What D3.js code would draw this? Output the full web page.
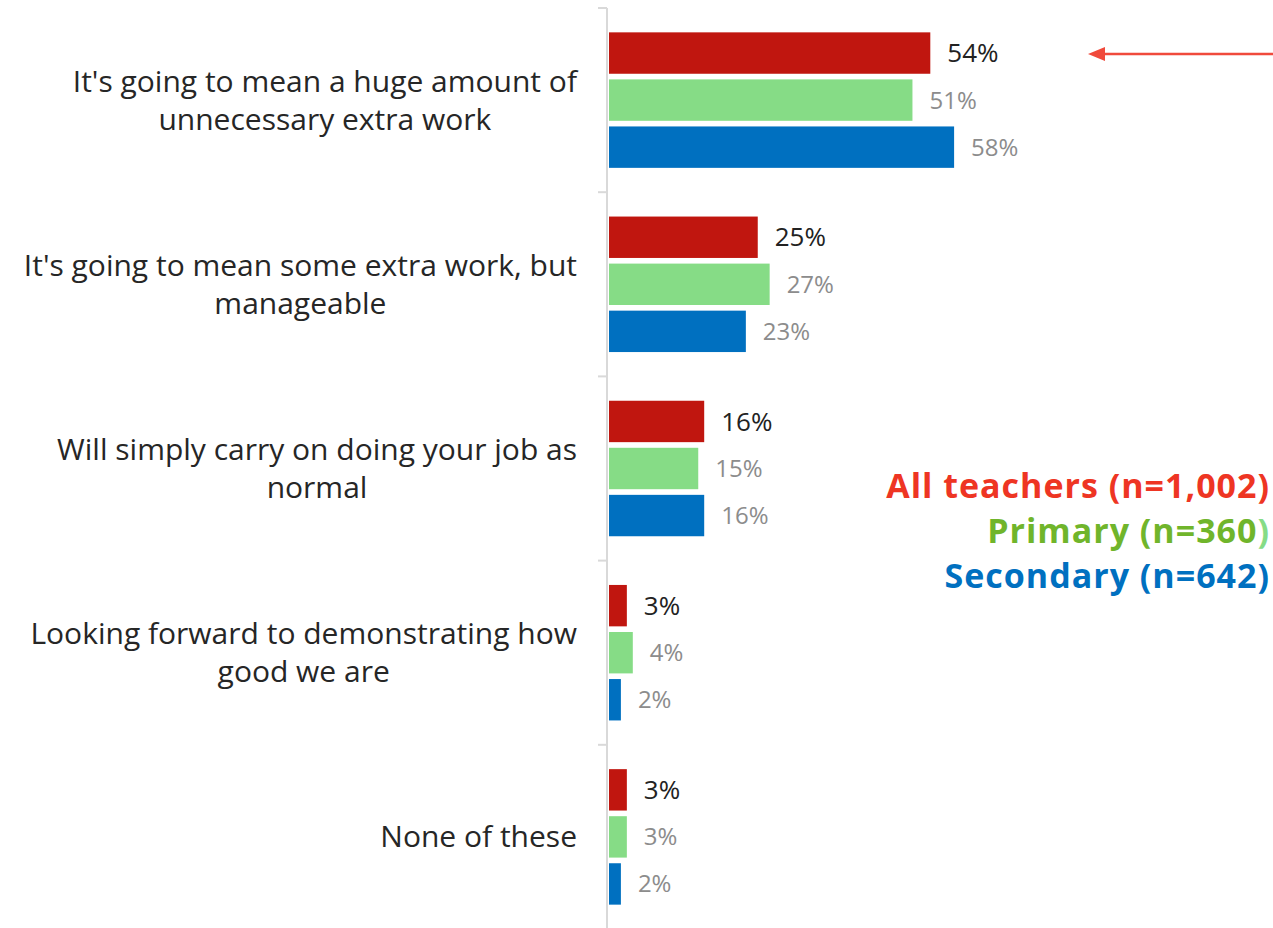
<!DOCTYPE html>
<html>
<head>
<meta charset="utf-8">
<script src="https://cdn.jsdelivr.net/npm/d3@7/dist/d3.min.js"></script>
<style>
  html, body { margin: 0; padding: 0; background: #fff; }
  svg { display: block; }
  text { font-family: "Open Sans", "DejaVu Sans", sans-serif; }
</style>
</head>
<body>
<svg id="chart" width="1273" height="928"></svg>
<script>
// Survey responses, percent of teachers in each group
const categories = [
  ["It's going to mean a huge amount of", "unnecessary extra work"],
  ["It's going to mean some extra work, but", "manageable"],
  ["Will simply carry on doing your job as", "normal"],
  ["Looking forward to demonstrating how", "good we are"],
  ["None of these"]
];
const seriesNames = ["All teachers", "Primary", "Secondary"];
const seriesN = ["1,002", "360", "642"];
const allTeachers = [54, 25, 16, 3, 3];
const primary = [51, 27, 15, 4, 3];
const secondary = [58, 23, 16, 2, 2];
const seriesValues = [allTeachers, primary, secondary];

const barColors = ["#c0160f", "#86dc86", "#0070c0"];
const legendColors = ["#ee3523", "#70b52b", "#0070c0"];

const svg = d3.select("#chart");

const catKeys = categories.map((c, i) => i);
const y = d3.scaleBand().domain(catKeys).range([8, 929]).padding(0);
const groupLen = 135.5;
const ySub = d3.scaleBand().domain(d3.range(seriesNames.length))
  .range([(y.bandwidth() - groupLen) / 2, (y.bandwidth() + groupLen) / 2])
  .paddingInner(0.12);
const x = d3.scaleLinear().domain([0, 100]).range([609, 609 + 595]);

// category axis with ticks on band edges
const axisG = svg.append("g");
axisG.append("line")
  .attr("x1", 607).attr("x2", 607)
  .attr("y1", y.range()[0]).attr("y2", 928)
  .attr("stroke", "#d9d9d9").attr("stroke-width", 2);
axisG.selectAll("line.tick")
  .data(catKeys)
  .join("line")
  .attr("class", "tick")
  .attr("x1", 598).attr("x2", 607)
  .attr("y1", d => y(d)).attr("y2", d => y(d))
  .attr("stroke", "#d9d9d9").attr("stroke-width", 2);

// category labels: lines centred on each other, block right edge at 577
const labelRight = 577;
const catG = svg.append("g");
categories.forEach((lines, i) => {
  const cy = y(i) + y.bandwidth() / 2;
  const lh = 38;
  const t = catG.append("text")
    .attr("text-anchor", "middle")
    .attr("font-size", 30)
    .attr("fill", "#262626");
  const spans = lines.map((ln, j) => t.append("tspan")
    .attr("y", cy + (j - (lines.length - 1) / 2) * lh)
    .attr("dy", "0.35em")
    .text(ln));
  const maxW = d3.max(spans, s => s.node().getComputedTextLength());
  spans.forEach(s => s.attr("x", labelRight - maxW / 2));
});

// bars
const groups = svg.append("g").selectAll("g")
  .data(catKeys)
  .join("g")
  .attr("transform", d => `translate(0,${y(d)})`);

groups.selectAll("rect")
  .data(ci => seriesValues.map((vals, si) => ({ si, v: vals[ci] })))
  .join("rect")
  .attr("x", x(0))
  .attr("y", d => ySub(d.si))
  .attr("width", d => x(d.v) - x(0))
  .attr("height", ySub.bandwidth())
  .attr("fill", d => barColors[d.si]);

groups.selectAll("text")
  .data(ci => seriesValues.map((vals, si) => ({ si, v: vals[ci] })))
  .join("text")
  .attr("x", d => x(d.v) + 17)
  .attr("y", d => ySub(d.si) + ySub.bandwidth() / 2)
  .attr("dy", "0.35em")
  .attr("font-size", d => d.si === 0 ? 26 : 24)
  .attr("fill", d => d.si === 0 ? "#222222" : "#8c8c8c")
  .text(d => d.v + "%");

// legend
const legend = svg.append("g");
seriesNames.forEach((name, i) => {
  const t = legend.append("text")
    .attr("x", 1270)
    .attr("y", 498 + i * 45)
    .attr("text-anchor", "end")
    .attr("font-size", 34)
    .attr("letter-spacing", 1)
    .attr("font-weight", "bold")
    .attr("fill", legendColors[i]);
  if (i === 1) {
    t.append("tspan").text(`${name} (n=${seriesN[i]}`);
    t.append("tspan").attr("fill", "#86dc86").text(")");
  } else {
    t.text(`${name} (n=${seriesN[i]})`);
  }
});

// pointer arrow toward the top result
const arrowY = 54;
svg.append("line")
  .attr("x1", 1273).attr("y1", arrowY)
  .attr("x2", 1100).attr("y2", arrowY)
  .attr("stroke", "#f04a3c").attr("stroke-width", 2.5);
svg.append("path")
  .attr("d", `M1088,${arrowY} L1105,${arrowY - 7} L1105,${arrowY + 7} Z`)
  .attr("fill", "#f04a3c");
</script>
</body>
</html>
